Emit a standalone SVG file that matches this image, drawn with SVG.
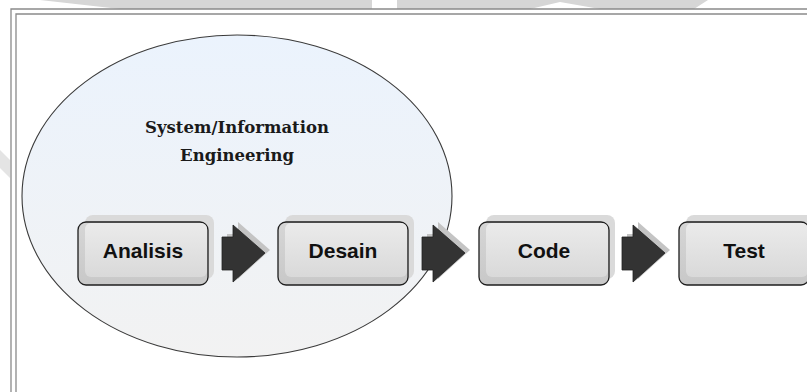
<svg xmlns="http://www.w3.org/2000/svg" width="807" height="392" viewBox="0 0 807 392">
  <defs>
    <linearGradient id="ellFill" x1="0" y1="0" x2="0" y2="1">
      <stop offset="0" stop-color="#ebf3fd"/>
      <stop offset="1" stop-color="#f2f2f2"/>
    </linearGradient>
    <linearGradient id="boxFill" x1="0" y1="0" x2="0" y2="1">
      <stop offset="0" stop-color="#d6d6d6"/>
      <stop offset="1" stop-color="#c8c8c8"/>
    </linearGradient>
    <linearGradient id="boxFace" x1="0" y1="0" x2="0" y2="1">
      <stop offset="0" stop-color="#ebebeb"/>
      <stop offset="1" stop-color="#d9d9d9"/>
    </linearGradient>
    <path id="arrowShape" d="M0,0 H11 V-12 L43,16 L11,45 V33 H0 Z"/>
  </defs>
  <style>
    .frame { fill: none; stroke: #8a8a8a; stroke-width: 1.3; }
    .wm { fill: #d6d6d6; }
    .back { fill: #dadada; }
    .box { fill: url(#boxFill); stroke: #1e1e1e; stroke-width: 1.3; }
    .face { fill: url(#boxFace); }
    .lbl { font-family: "Liberation Sans", Arial, sans-serif; font-weight: bold; font-size: 21px; fill: #111; text-anchor: middle; }
    .title { font-family: "DejaVu Serif", "Liberation Serif", serif; font-weight: bold; font-size: 16.5px; fill: #1a1a1a; text-anchor: middle; }
    .arr { fill: #333333; stroke: #222; stroke-width: 0.8; }
    .arrShadow { fill: #c4c4c4; }
  </style>

  <rect width="807" height="392" fill="#ffffff"/>

  <!-- background watermark strips along the top -->
  <polygon class="wm" points="40,0 372,0 372,9 120,9"/>
  <polygon class="wm" points="397,0 708,0 694,9 600,9 560,2 530,9 397,9"/>
  <polygon fill="#e4e4e4" points="0,150 10,160 10,178 0,168"/>

  <!-- page frame -->
  <path class="frame" d="M11,392 V9 H807"/>
  <path class="frame" d="M16,392 V14 H807" stroke-width="1.6"/>

  <!-- scope ellipse -->
  <g id="scope">
    <ellipse cx="237" cy="196" rx="215" ry="161" fill="url(#ellFill)" stroke="#3a3a3a" stroke-width="1.1"/>
    <text class="title" x="237" y="133">System/Information</text>
    <text class="title" x="237" y="161">Engineering</text>
  </g>

  <!-- flow arrows -->
  <g id="connectors">
    <use href="#arrowShape" class="arrShadow" x="227" y="234"/>
    <use href="#arrowShape" class="arr" x="222" y="237"/>
    <use href="#arrowShape" class="arrShadow" x="427" y="234"/>
    <use href="#arrowShape" class="arr" x="422" y="237"/>
    <use href="#arrowShape" class="arrShadow" x="627" y="234"/>
    <use href="#arrowShape" class="arr" x="622" y="237"/>
  </g>

  <!-- process steps -->
  <g id="analisis">
    <rect class="back" x="85" y="215" width="129" height="64" rx="8"/>
    <rect class="box" x="78" y="222" width="130" height="63" rx="8"/>
    <rect class="face" x="85" y="223" width="122" height="54" rx="6"/>
    <text class="lbl" x="143" y="258">Analisis</text>
  </g>
  <g id="desain">
    <rect class="back" x="285" y="215" width="129" height="64" rx="8"/>
    <rect class="box" x="278" y="222" width="130" height="63" rx="8"/>
    <rect class="face" x="285" y="223" width="122" height="54" rx="6"/>
    <text class="lbl" x="343" y="258">Desain</text>
  </g>
  <g id="code">
    <rect class="back" x="486" y="215" width="129" height="64" rx="8"/>
    <rect class="box" x="479" y="222" width="130" height="63" rx="8"/>
    <rect class="face" x="486" y="223" width="122" height="54" rx="6"/>
    <text class="lbl" x="544" y="258">Code</text>
  </g>
  <g id="test">
    <rect class="back" x="686" y="215" width="129" height="64" rx="8"/>
    <rect class="box" x="679" y="222" width="130" height="63" rx="8"/>
    <rect class="face" x="686" y="223" width="122" height="54" rx="6"/>
    <text class="lbl" x="744" y="258">Test</text>
  </g>
</svg>
